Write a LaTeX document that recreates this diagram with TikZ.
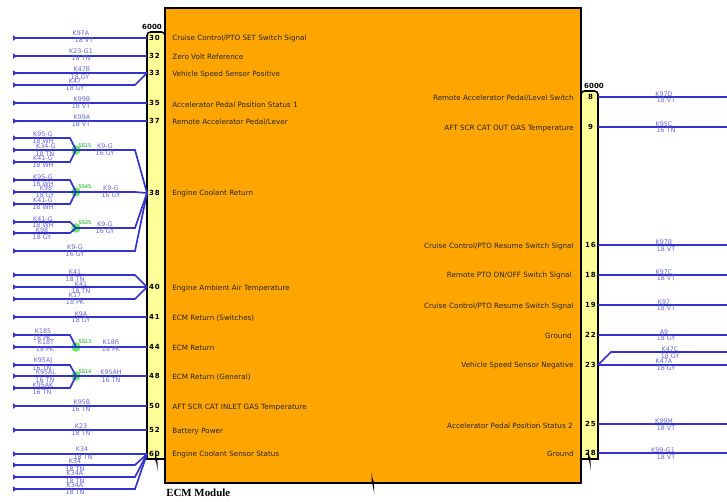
\documentclass[tikz,border=0pt]{standalone}
\usepackage{fontspec}
\setmainfont{DejaVu Sans}
\newfontfamily\pinfont[LetterSpace=14]{DejaVu Sans}
\newfontfamily\titlefont{Liberation Serif}
\usetikzlibrary{arrows.meta}
\definecolor{wireblue}{HTML}{3333CC}
\definecolor{labelblue}{HTML}{6666DD}
\definecolor{splicegreen}{HTML}{66EE66}
\definecolor{ecmorange}{HTML}{FFA500}
\definecolor{pinyellow}{HTML}{FFFF99}
\tikzset{
	wire/.style={line width=0.95pt, color=wireblue, {Latex[reversed,length=2.6pt,width=3.4pt]}-},
	rwire/.style={line width=0.95pt, color=wireblue},
	wirelabel/.style={inner sep=0, text=labelblue, font=\fontsize{3.6}{4}\selectfont},
	ecmlabel/.style={inner sep=0, text=black!85, font=\fontsize{4.1}{4.5}\selectfont},
	pinnum/.style={inner sep=0, font=\pinfont\bfseries\fontsize{4}{5}\selectfont},
	splice/.style={circle, fill=splicegreen, inner sep=0, minimum size=5.4pt},
	splicelabel/.style={inner sep=0, text=green!65!black, font=\fontsize{2.9}{3}\selectfont},
	conn/.style={draw=black, line width=0.9pt, fill=pinyellow}
}
\def\breakmark(#1,#2){\fill[black] (#1,#2) -- (#1+1.5,#2+9) -- (#1+2.3,#2+8.5) -- (#1+2.8,#2+22) -- (#1+1,#2+12) -- (#1+0.3,#2+12.5) -- cycle;}

\begin{document}
\begin{tikzpicture}[x=0.02cm, y=-0.02cm]
	\useasboundingbox (0, 0) rectangle (727, 501);

	%%%%% boxes %%%%%
	\draw[conn] (165, 459) -- (147, 459) [rounded corners=2pt] -- (147, 32) -- (165, 32) [sharp corners] -- cycle;
	\draw[conn] (581, 459) -- (598, 459) [rounded corners=2pt] -- (598, 91) -- (581, 91) [sharp corners] -- cycle;
	\draw[draw=black, line width=1.1pt, fill=ecmorange] (165, 8) rectangle (581, 483);

	\node[inner sep=0, font=\bfseries\fontsize{4}{5}\selectfont] (hdrleft) at (152, 27) {6000};
	\node[inner sep=0, font=\bfseries\fontsize{4}{5}\selectfont] (hdrright) at (594, 86) {6000};
	\node[inner sep=0, anchor=west, font=\titlefont\bfseries\fontsize{6.2}{7}\selectfont] (title) at (166, 493) {ECM Module};

	%%%%% pins %%%%%
	\foreach \n/\y in {30/38, 32/56, 33/73, 35/103, 37/121, 38/193, 40/287, 41/317, 44/347, 48/376, 50/406, 52/430, 60/454} {
		\node[pinnum] (pin\n) at (154.5, \y) {\n};
		\coordinate (end\n) at (147, \y);
	}
	\foreach \n/\y in {8/97, 9/127, 16/245, 18/275, 19/305, 22/335, 23/365, 25/424, 28/453} {
		\node[pinnum] (pin\n) at (590.5, \y) {\n};
		\coordinate (end\n) at (598, \y);
		\coordinate (free\n) at (727, \y);
	}

	%%%%% ecm signal names %%%%%
	\foreach \y/\t [count=\i] in {38.5/{Cruise Control/PTO SET Switch Signal}, 56.5/Zero Volt Reference, 74.5/Vehicle Speed Sensor Positive, 104.5/Accelerator Pedal Position Status 1, 122.5/{Remote Accelerator Pedal/Lever}, 193.5/Engine Coolant Return, 288.5/Engine Ambient Air Temperature, 318.5/ECM Return (Switches), 347.5/ECM Return, 377.5/ECM Return (General), 407.5/AFT SCR CAT INLET GAS Temperature, 431.5/Battery Power, 455/Engine Coolant Sensor Status}
		\node[ecmlabel, anchor=west] (sigl\i) at (172, \y) {\t};
	\foreach \x/\y/\t [count=\i] in {574/98.5/{Remote Accelerator Pedal/Level Switch}, 574/128.5/AFT SCR CAT OUT GAS Temperature, 574/246.5/{Cruise Control/PTO Resume Switch Signal}, 572/275.5/{Remote PTO ON/OFF Switch Signal}, 574/306.5/{Cruise Control/PTO Resume Switch Signal}, 572/335.5/Ground, 574/365.5/Vehicle Speed Sensor Negative, 573/425.5/Accelerator Pedal Position Status 2, 574/453.5/Ground}
		\node[ecmlabel, anchor=east] (sigr\i) at (\x, \y) {\t};

	%%%%% splices %%%%%
	\node[splice] (ss15) at (76, 150) {};
	\node[splice] (ss45) at (76, 192) {};
	\node[splice] (ss35) at (76, 228) {};
	\node[splice] (ss13) at (76, 347) {};
	\node[splice] (ss14) at (76, 376) {};

	%%%%% straight wires %%%%%
	\foreach \y/\p in {38/30, 56/32, 73/33, 103/35, 121/37, 317/41, 406/50, 430/52, 454/60, 287/40} {
		\coordinate (free\p) at (13, \y);
		\draw[wire] (free\p) -- (end\p);
	}
	\foreach \p in {8, 9, 16, 18, 19, 22, 23, 25, 28}
		\draw[rwire] (end\p) -- (free\p);

	%%%%% wires with an elbow %%%%%
	\foreach \y/\p [count=\i] in {85/33, 251/38, 275/40, 299/40, 465/60, 477/60, 489/60} {
		\coordinate (elb\i) at (13, \y);
		\draw[wire] (elb\i) -- (135, \y) -- (end\p);
	}
	\coordinate (freekc) at (727, 352);
	\draw[rwire] (end23) -- (611, 352) -- (freekc);

	\foreach \y/\s [count=\i] in {138/ss15, 162/ss15, 180/ss45, 204/ss45, 222/ss35, 233/ss35, 335/ss13, 365/ss14, 388/ss14} {
		\coordinate (br\i) at (13, \y);
		\draw[wire] (br\i) -- (70, \y) -- (\s.center);
	}
	\foreach \y/\s [count=\i] in {150/ss15, 192/ss45, 347/ss13, 376/ss14} {
		\coordinate (run\i) at (13, \y);
		\draw[wire] (run\i) -- (\s.center);
	}
	\draw[rwire] (ss15.center) -- (135, 150) -- (end38);
	\draw[rwire] (ss45.center) -- (135, 192) -- (end38);
	\draw[rwire] (ss35.center) -- (135, 228) -- (end38);
	\draw[rwire] (ss13.center) -- (end44);
	\draw[rwire] (ss14.center) -- (end48);

	\foreach \x/\y/\t [count=\i] in {85/146/SS15, 85/187/SS45, 85/223/SS35, 85/342/SS13, 85/372/SS14}
		\node[splicelabel] (ssl\i) at (\x, \y) {\t};

	%%%%% wire labels %%%%%
	\foreach \x/\y/\t [count=\i] in {
		81/33.5/K97A, 84/40.5/18 VT, 81/51.5/K23-G1, 81/58.5/18 TN, 82/69.5/K47B, 80/77/18 GY, 75/81.5/K47, 75/88.5/18 GY,
		82/99.5/K99B, 81/106.5/18 VT, 82/117/K99A, 81/124/18 VT,
		43/134.5/K95-G, 43/141.5/18 WH, 46/146.5/K34-G, 45/154/18 TN, 43/158.5/K41-G, 43/165.5/18 WH, 105/146.5/K9-G, 105/153.5/16 GY,
		43/177/K95-G, 43/184/18 WH, 46/188/K98, 45/195.5/18 GY, 43/200.5/K41-G, 43/207.5/18 WH, 111/188.5/K9-G, 111/195.5/16 GY,
		43/219/K41-G, 43/225/18 WH, 42/230.5/K98, 42/237/18 GY, 105/224.5/K9-G, 105/231/16 GY, 75/247/K9-G, 75/254.5/16 GY,
		75/272/K41, 75/279/18 TN, 81/284/K41, 81/291/18 TN, 75/295.5/K17, 75/302.5/18 PK, 81/314/K9A, 81/320.5/18 GY,
		43/331.5/K185, 42/338/18 PK, 46/342.5/K18T, 45/349.5/18 PK, 111/342.5/K18R, 111/349.5/18 PK,
		43/360.5/K95AJ, 42/368/16 TN, 46/372.5/K95AL, 45/380/16 TN, 43/385/K95AK, 42/392/16 TN, 111/372.5/K95AH, 111/380/16 TN,
		82/402.5/K95B, 81/409.5/16 TN, 81/426.5/K23, 81/433.5/18 TN, 82/449.5/K34, 83/457/18 TN, 75/461.5/K34, 75/469/18 TN, 75/473.5/K34A, 75/481/18 TN, 75/485.5/K34A, 75/492.5/18 TN,
		664/94/K97D, 666/100.5/18 VT, 664/124/K95C, 666/130/16 TN, 664/242/K97B, 666/249/18 VT, 664/272/K97C, 666/278/18 VT,
		664/302/K97, 666/308/18 VT, 664/332/A9, 666/338/18 GY, 670/349/K47C, 670/356/18 GY, 664/361/K47A, 666/368/18 GY,
		664/421/K99M, 666/428/18 VT, 663/450/K99-G1, 666/457/18 VT}
		\node[wirelabel] (lab\i) at (\x, \y) {\t};

	%%%%% break marks %%%%%
	\breakmark(155, 449)
	\breakmark(371.5, 472)
	\breakmark(588, 448)
\end{tikzpicture}
\end{document}
